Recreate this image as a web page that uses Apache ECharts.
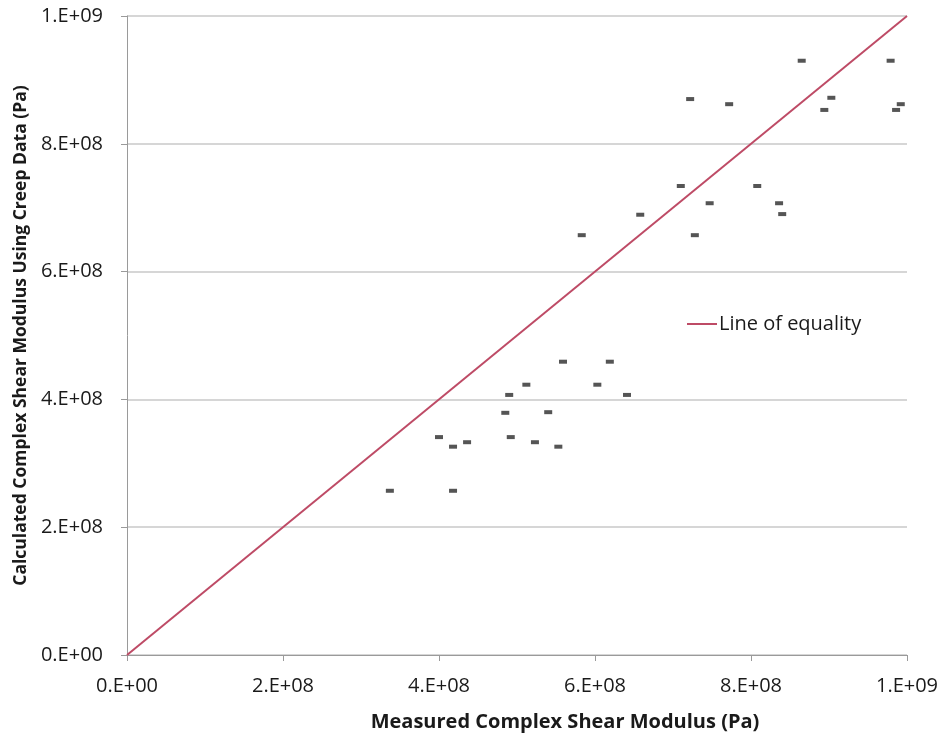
<!DOCTYPE html>
<html>
<head>
<meta charset="utf-8">
<script src="https://cdn.jsdelivr.net/npm/echarts@6/dist/echarts.min.js"></script>
<style>
    html, body { margin: 0; padding: 0; background: #fff; }
    #chart { width: 942px; height: 738px; }
</style>
</head>
<body>
<div id="chart"></div>
<script>
    // measured vs calculated complex shear modulus (Pa)
    var measured = [
        0.337e9, 0.418e9, 0.400e9, 0.418e9, 0.436e9, 0.485e9, 0.490e9, 0.492e9,
        0.512e9, 0.523e9, 0.540e9, 0.553e9, 0.559e9, 0.603e9, 0.619e9, 0.641e9,
        0.583e9, 0.658e9, 0.710e9, 0.722e9, 0.728e9, 0.747e9, 0.772e9, 0.808e9,
        0.865e9, 0.894e9, 0.903e9, 0.836e9, 0.840e9, 0.979e9, 0.986e9, 0.992e9
    ];
    var calculated = [
        0.257e9, 0.257e9, 0.341e9, 0.326e9, 0.333e9, 0.379e9, 0.407e9, 0.341e9,
        0.423e9, 0.333e9, 0.380e9, 0.326e9, 0.459e9, 0.423e9, 0.459e9, 0.407e9,
        0.657e9, 0.689e9, 0.734e9, 0.870e9, 0.657e9, 0.707e9, 0.862e9, 0.734e9,
        0.930e9, 0.853e9, 0.872e9, 0.707e9, 0.690e9, 0.930e9, 0.853e9, 0.862e9
    ];
    var equalityLine = [[0, 0], [1e9, 1e9]];
    var tickLabels = ['0.E+00', '2.E+08', '4.E+08', '6.E+08', '8.E+08', '1.E+09'];

    var points = measured.map(function (m, i) { return [m, calculated[i]]; });

    function tickFmt(v) {
        return tickLabels[Math.round(v / 2e8)] || '';
    }

    var font = '"Open Sans", "Liberation Sans", sans-serif';

    var myChart = echarts.init(document.getElementById('chart'));
    myChart.setOption({
        animation: false,
        grid: { left: 127, right: 35, top: 16, bottom: 83, outerBoundsMode: 'none', containLabel: false },
        legend: {
            left: 681, top: 309,
            itemWidth: 30, itemHeight: 2,
            data: ['Line of equality'],
            textStyle: { fontFamily: font, fontSize: 20, color: '#1a1a1a', padding: [0, 0, 0, -3] }
        },
        xAxis: {
            type: 'value', min: 0, max: 1e9, interval: 2e8,
            name: 'Measured Complex Shear Modulus (Pa)',
            nameLocation: 'middle', nameGap: 57,
            nameTextStyle: { fontFamily: font, fontSize: 20, fontWeight: 'bold', color: '#1a1a1a', padding: [0, 0, 0, 96] },
            axisLine: { lineStyle: { color: '#9a9a9a' } },
            axisTick: { show: true, length: 6, lineStyle: { color: '#9a9a9a' } },
            axisLabel: { formatter: tickFmt, fontFamily: font, fontSize: 20, color: '#1a1a1a', margin: 21 },
            splitLine: { show: false }
        },
        yAxis: {
            type: 'value', min: 0, max: 1e9, interval: 2e8,
            name: 'Calculated Complex Shear Modulus Using Creep Data (Pa)',
            nameLocation: 'middle', nameGap: 97,
            nameTextStyle: { fontFamily: font, fontSize: 17.5, fontWeight: 'bold', color: '#1a1a1a' },
            axisLine: { show: true, lineStyle: { color: '#9a9a9a' } },
            axisTick: { show: true, length: 6, lineStyle: { color: '#9a9a9a' } },
            axisLabel: { formatter: tickFmt, fontFamily: font, fontSize: 20, color: '#1a1a1a', margin: 24 },
            splitLine: { show: true, lineStyle: { color: '#c8c8c8', width: 1.5 } }
        },
        series: [
            {
                name: 'Line of equality',
                type: 'line',
                data: equalityLine,
                symbol: 'none',
                lineStyle: { color: '#be4b66', width: 2 },
                itemStyle: { color: '#be4b66' }
            },
            {
                name: 'data',
                type: 'scatter',
                data: points,
                symbol: 'rect',
                symbolSize: [8, 4],
                itemStyle: { color: '#2a2a2a' }
            }
        ]
    });
</script>
</body>
</html>
